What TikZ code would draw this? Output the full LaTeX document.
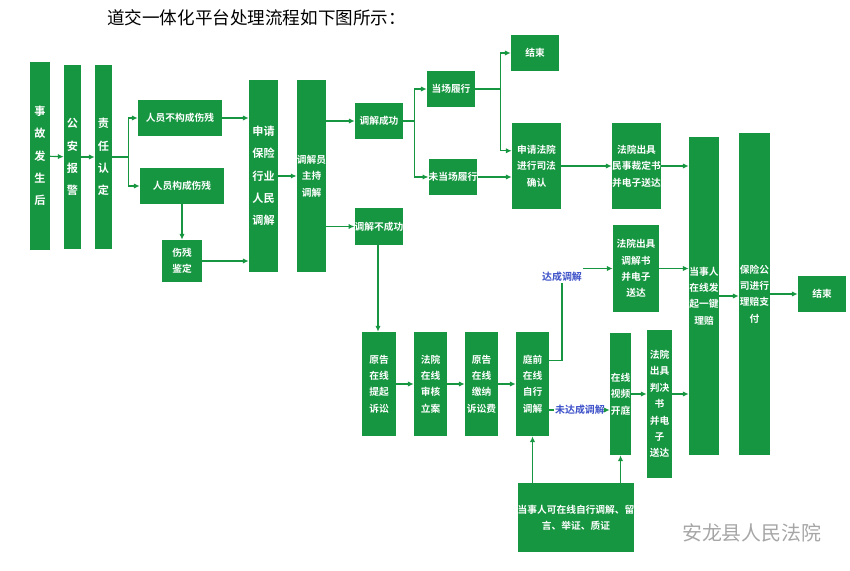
\documentclass[tikz,border=0pt]{standalone}
\usepackage{fontspec}
\setmainfont{Noto Sans CJK SC}
\newfontfamily\cjkbold{Noto Sans CJK SC Bold}
\usetikzlibrary{arrows.meta,positioning}
\definecolor{flowgreen}{RGB}{22,150,64}
\definecolor{labelblue}{RGB}{60,80,200}
\tikzset{
  box/.style={fill=flowgreen, text=white, inner sep=0pt, align=center,
    font=\cjkbold\fontsize{8.3}{14}\selectfont},
  tallbox/.style={box, font=\cjkbold\fontsize{9.5}{19}\selectfont},
  link/.style={draw=flowgreen, line width=1pt, -{Latex[length=5pt,width=4.5pt]}},
  plain/.style={draw=flowgreen, line width=1pt},
  tag/.style={text=labelblue, inner sep=1pt, font=\cjkbold\fontsize{8.5}{10}\selectfont}
}
% box from pixel corners
\newcommand\flowbox[7][box]{%
  \node[#1, minimum width={(#5-#3)*0.03cm}, minimum height={(#6-#4)*0.03cm}]
    (#2) at ({(#3+#5)/2},{(#4+#6)/2}) {#7};}
\begin{document}
\begin{tikzpicture}[x=0.03cm, y=-0.03cm]
\useasboundingbox (0,0) rectangle (850,571);

% Title
\node[anchor=west, font=\fontsize{15}{17}\selectfont] (title) at (103,18) {道交一体化平台处理流程如下图所示：};

% First columns
\flowbox[tallbox]{shigu}{30}{62}{50}{250}{事\\故\\发\\生\\后}
\flowbox[tallbox]{baojing}{64}{65}{81}{249}{公\\安\\报\\警}
\flowbox[tallbox]{zeren}{95}{65}{112}{249}{责\\任\\认\\定}
\flowbox{bugou}{138}{100}{222}{136}{人员不构成伤残}
\flowbox{gou}{140}{168}{224}{204}{人员构成伤残}
\flowbox{jianding}{162}{240}{202}{282}{伤残\\鉴定}
\flowbox[tallbox]{baoxian}{249}{80}{278}{272}{申请\\保险\\行业\\人民\\调解}
\flowbox{zhuchi}{297}{80}{326}{272}{调解员\\主持\\调解}
\flowbox{chenggong}{355}{103}{403}{139}{调解成功}
\flowbox{bucheng}{355}{208}{403}{245}{调解不成功}

% Mediation branch
\flowbox{dangchang}{427}{71}{475}{107}{当场履行}
\flowbox{weidang}{429}{159}{477}{195}{未当场履行}
\flowbox{jieshuA}{511}{35}{559}{71}{结束}
\flowbox{sifa}{512}{123}{561}{209}{申请法院\\进行司法\\确认}
\flowbox{minshi}{612}{123}{661}{209}{法院出具\\民事裁定书\\并电子送达}
\flowbox{tiaojieshu}{613}{225}{659}{312}{法院出具\\调解书\\并电子\\送达}
\flowbox{lipei}{689}{137}{719}{455}{当事人\\在线发\\起一键\\理赔}
\flowbox{zhifu}{739}{133}{770}{455}{保险公\\司进行\\理赔支\\付}
\flowbox{jieshuB}{798}{276}{846}{312}{结束}

% Litigation branch
\flowbox{qisu}{362}{332}{396}{436}{原告\\在线\\提起\\诉讼}
\flowbox{lian}{414}{332}{447}{436}{法院\\在线\\审核\\立案}
\flowbox{jiaona}{465}{332}{498}{436}{原告\\在线\\缴纳\\诉讼费}
\flowbox{tingqian}{516}{332}{549}{436}{庭前\\在线\\自行\\调解}
\flowbox{shipin}{610}{333}{631}{455}{在线\\视频\\开庭}
\flowbox{panjue}{647}{330}{672}{478}{法院\\出具\\判决\\书\\并电\\子\\送达}
\flowbox{dangshiren}{518}{483}{634}{552}{当事人可在线自行调解、留\\言、举证、质证}

% Labels
\node[tag] (dacheng) at (562,277) {达成调解};
\node[tag] (weida) at (580,410) {未达成调解};

% Connectors
\draw[link] (shigu) -- (baojing);
\draw[link] (baojing) -- (zeren);
\draw[plain] (zeren.east) -- ++(16,0) coordinate (splitA);
\draw[link] (splitA) |- (bugou.west);
\draw[link] (splitA) |- (gou.west);
\draw[link] (bugou.east) -- (baoxian.west |- bugou.east);
\draw[link] (gou.south -| jianding) -- (jianding.north);
\draw[link] (jianding.east) -- (baoxian.west |- jianding.east);
\draw[link] (baoxian) -- (zhuchi);
\draw[link] (zhuchi.east |- chenggong) -- (chenggong.west);
\draw[link] (zhuchi.east |- bucheng) -- (bucheng.west);
\draw[plain] (chenggong.east) -- ++(11,0) coordinate (splitB);
\draw[link] (splitB) |- (dangchang.west);
\draw[link] (splitB) |- (weidang.west);
\draw[plain] (dangchang.east) -- ++(25,0) coordinate (splitC);
\draw[link] (splitC) |- (jieshuA.west);
\draw[link] (splitC) |- ([yshift=13pt]sifa.west);
\draw[link] (weidang.east) -- (sifa.west |- weidang.east);
\draw[link] (sifa) -- (minshi);
\draw[link] (minshi.east) -- (lipei.west |- minshi.east);
\draw[link] (tiaojieshu.east) -- (lipei.west |- tiaojieshu.east);
\draw[link] (lipei.east) -- (zhifu.west |- lipei.east);
\draw[link] (zhifu.east |- jieshuB) -- (jieshuB.west);
\draw[link] (bucheng.south -| 378,0) -- (qisu.north -| 378,0);
\draw[link] (qisu) -- (lian);
\draw[link] (lian) -- (jiaona);
\draw[link] (jiaona) -- (tingqian);
\draw[plain] ([yshift=20pt]tingqian.east) -| (dacheng.south);
\draw[link] (dacheng.east |- tiaojieshu.west) -- (tiaojieshu.west);
\draw[plain] (tingqian.east |- weida.west) -- (weida.west);
\draw[link] (weida.east) -- (shipin.west |- weida.east);
\draw[link] (dangshiren.north -| tingqian) -- (tingqian.south);
\draw[link] (dangshiren.north -| shipin) -- (shipin.south);
\draw[link] (shipin.east) -- (panjue.west |- shipin.east);
\draw[link] (panjue.east |- shipin.east) -- (lipei.west |- shipin.east);

% Watermark
\node[text=gray!70, font=\fontsize{17}{19}\selectfont, anchor=west] (mark) at (678,533) {安龙县人民法院};
\end{tikzpicture}
\end{document}
